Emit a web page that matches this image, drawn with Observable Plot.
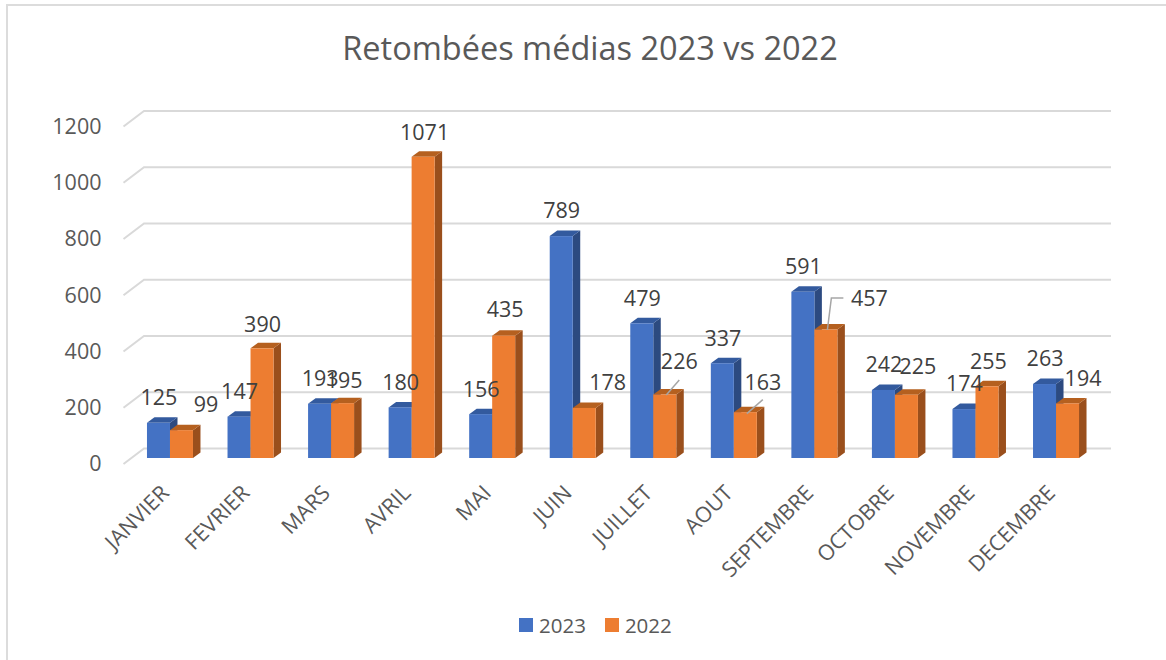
<!DOCTYPE html>
<html lang="fr">
<head>
<meta charset="utf-8">
<script src="https://cdn.jsdelivr.net/npm/d3@7"></script>
<script src="https://cdn.jsdelivr.net/npm/@observablehq/plot@0.6"></script>
<style>
  html, body { margin: 0; padding: 0; background: #fff; }
  body { width: 1166px; height: 660px; overflow: hidden; position: relative; font-family: "Open Sans", sans-serif; color: #595959; }
  #frame { position: absolute; left: 6px; top: 4px; right: -4px; bottom: -4px; border: 2px solid #dcdcdc; }
  #title { position: absolute; left: 0; top: 25px; width: 1180px; text-align: center; font-size: 32.5px; line-height: 46px; }
  #chart { position: absolute; left: 0; top: 90px; }
  #legend { position: absolute; left: 519px; top: 611px; display: flex; align-items: center; font-size: 20.5px; line-height: 28px; }
  #legend i { display: inline-block; width: 14px; height: 14px; margin-right: 6px; }
  #legend span { margin-right: 19px; }
</style>
</head>
<body>
<div id="frame"></div>
<div id="title">Retombées médias 2023 vs 2022</div>
<div id="chart"></div>
<div id="legend"><i style="background:#4472C4"></i><span>2023</span><i style="background:#ED7D31"></i><span>2022</span></div>
<script>
const months = ["JANVIER","FEVRIER","MARS","AVRIL","MAI","JUIN","JUILLET","AOUT","SEPTEMBRE","OCTOBRE","NOVEMBRE","DECEMBRE"];
const series = ["2023","2022"];
const values2023 = [125,147,193,180,156,789,479,337,591,242,174,263];
const values2022 = [99,390,195,1071,435,178,226,163,457,225,255,194];
const yTicks = [0,200,400,600,800,1000,1200];

// Presentation: horizontal/vertical nudges of the 2022 labels, as placed by hand in the source chart
const labelNudgeX2022 = [24,0,1,1,1,23,14,17,43,11,1,15];
const labelNudgeY2022 = [-26,-24,-23,-24,-26,-25,-33,-30,-31,-28,-25,-25];

const palette = {
  "2023": {front:"#4472C4", side:"#2C4A80", top:"#335A9E"},
  "2022": {front:"#ED7D31", side:"#9A4F1C", top:"#B5601F"}
};
const depth = {x: 7.5, y: -5.5};      // bar extrusion
const wall = {left: 123.5, right: 1111, x: 20.5, y: -15.5, back: -10}; // gridline side-wall slant

const rows2023 = months.map((month,i)=>({month, series:"2023", value:values2023[i], lx:0, ly:-25}));
const rows2022 = months.map((month,i)=>({month, series:"2022", value:values2022[i], lx:labelNudgeX2022[i], ly:labelNudgeY2022[i]}));
const rows = [...rows2023, ...rows2022];

// Custom extruded face drawn from the library's scales
function face(data, kind, s) {
  return Plot.barY(data, {
    fx:"month", x:"series", y:"value", fill: palette[s][kind],
    render(index, scales, values, dims, context, next) {
      const g = d3.select(next(index, scales, values, dims, context));
      g.selectAll("rect").remove();
      const w = scales.x("2022") - scales.x("2023");
      for (const i of index) {
        const x0 = scales.x(data[i].series), x1 = x0 + w;
        const yT = scales.y(data[i].value), yB = scales.y(0);
        const d = kind === "side"
          ? `M${x1},${yT}L${x1+depth.x},${yT+depth.y}L${x1+depth.x},${yB+depth.y}L${x1},${yB}Z`
          : `M${x0},${yT}L${x0+depth.x},${yT+depth.y}L${x1+depth.x},${yT+depth.y}L${x1},${yT}Z`;
        g.append("path").attr("d", d).attr("fill", palette[s][kind]);
      }
      return g.node();
    }
  });
}

// Back-wall gridlines; anchored to the first facet, whose local frame coincides with the page
function wallGrid() {
  const ticks = yTicks.map(tick => ({tick, month: months[0]}));
  return Plot.ruleY(ticks, {
    fx:"month", y:"tick",
    render(index, scales, values, dims, context, next) {
      const g = d3.select(next(index, scales, values, dims, context));
      g.selectAll("line").remove();
      for (const i of index) {
        const yb = scales.y(ticks[i].tick) + wall.back;
        g.append("path")
          .attr("d", `M${wall.left},${yb - wall.y}L${wall.left + wall.x},${yb}L${wall.right},${yb}`)
          .attr("fill","none").attr("stroke","#d9d9d9").attr("stroke-width",2);
      }
      return g.node();
    }
  });
}

// Leader lines for the labels that were dragged away from their bars
const leaders = [
  {month:"JUILLET", series:"2022", value:226, path:[[1,0],[14,-15]]},
  {month:"AOUT", series:"2022", value:163, path:[[1,1],[17,-13]]},
  {month:"SEPTEMBRE", series:"2022", value:457, path:[[1,0],[5,-32],[17,-32]]}
];
const leaderMark = Plot.dot(leaders, {
  fx:"month", x:"series", y:"value", r:0,
  render(index, scales, values, dims, context, next) {
    const g = d3.select(next(index, scales, values, dims, context));
    g.selectAll("*").remove();
    for (const i of index) {
      // the dot group is already shifted to the centre of the band
      const cx = scales.x(leaders[i].series), cy = scales.y(leaders[i].value);
      g.append("path").attr("d", "M" + leaders[i].path.map(([a,b]) => `${cx+a},${cy+b}`).join("L"))
        .attr("fill","none").attr("stroke","#a6a6a6").attr("stroke-width",1.5);
    }
    return g.node();
  }
});

const plot = Plot.plot({
  width: 1166,
  height: 515,
  marginLeft: 129.7,
  marginRight: 69.7,
  marginTop: 30.5,
  marginBottom: 147,
  style: {fontFamily:"'Open Sans', sans-serif", background:"transparent", overflow:"visible"},
  fx: {domain: months, padding: 0, round: false, label: null},
  x: {domain: series, paddingInner: 0, paddingOuter: 0.751, round: false, axis: null},
  y: {domain: [0,1200], ticks: yTicks, label: null},
  marks: [
    wallGrid(),
    Plot.axisY({ticks:yTicks, tickSize:0, tickPadding:28.7, fontSize:21.5, fill:"#595959", label:null, dy:6, tickFormat:d=>String(d)}),
    Plot.axisFx({tickSize:0, tickRotate:-45, tickPadding:31, dx:-5, fontSize:21.5, fill:"#595959", label:null, anchor:"bottom"}),
    ...series.flatMap(s => {
      const data = rows.filter(r => r.series === s);
      return [
        face(data,"side",s),
        face(data,"top",s),
        Plot.barY(data, {fx:"month", x:"series", y:"value", fill: palette[s].front})
      ];
    }),
    leaderMark,
    Plot.text(rows, {
      fx:"month",
      x:"series",
      y:"value",
      text:d=>String(d.value),
      fontSize:21.5,
      fill:"#404040",
      render(index, scales, values, dims, context, next) {
        const g = d3.select(next(index, scales, values, dims, context));
        g.selectAll("text").each(function(_, j) {
          const i = index[j];
          d3.select(this).attr("transform", `translate(${values.x[i] + rows[i].lx},${values.y[i] + rows[i].ly})`);
        });
        return g.node();
      }
    })
  ]
});
document.getElementById("chart").appendChild(plot);
</script>
</body>
</html>
